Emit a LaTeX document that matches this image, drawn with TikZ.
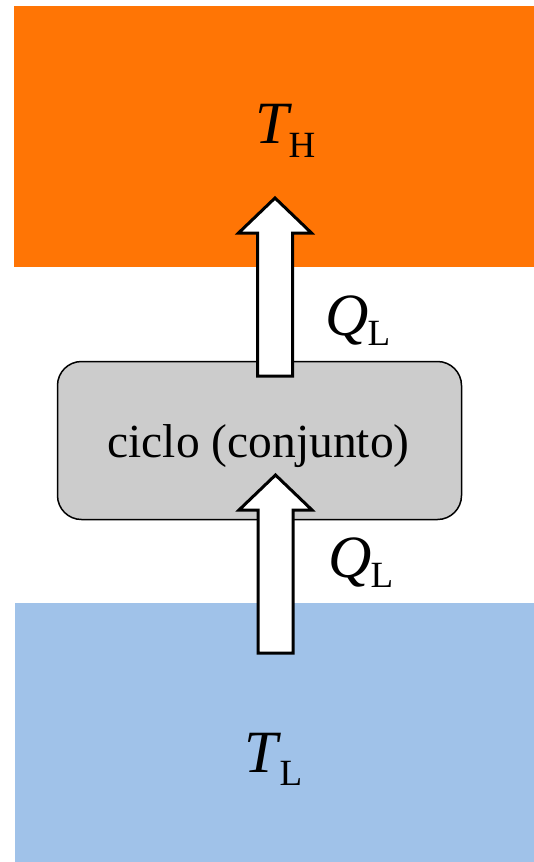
\documentclass[tikz,border=0pt]{standalone}
\usepackage{fontspec}
\setmainfont{Liberation Serif}
\usepackage{xcolor}
\usepackage{tikz}
\definecolor{hotorange}{HTML}{FF7505}
\definecolor{coldblue}{HTML}{A0C2E9}
\definecolor{cyclegray}{HTML}{CCCCCC}
\newcommand{\bigsz}{\fontsize{60}{60}\selectfont}
\newcommand{\subsz}{\fontsize{37}{37}\selectfont}
\newcommand{\txtsz}{\fontsize{47.5}{50}\selectfont}
% block arrow from tail coordinate #1 to tip coordinate #2
\newcommand{\heatarrow}[2]{%
    \draw[heatarr] ([xshift=-17.5pt]#1) -- ([xshift=-17.5pt,yshift=-35pt]#2)
        -- ([xshift=-36.5pt,yshift=-35pt]#2) -- (#2)
        -- ([xshift=36.5pt,yshift=-35pt]#2) -- ([xshift=17.5pt,yshift=-35pt]#2)
        -- ([xshift=17.5pt]#1) -- cycle;}

\begin{document}
\begin{tikzpicture}[
        x=1pt, y=-1pt,
        reservoir/.style={rectangle, draw=none, inner sep=0pt},
        cyclebox/.style={rectangle, rounded corners=24pt, draw=black,
                line width=1.5pt, fill=cyclegray,
                minimum width=404pt, minimum height=158pt, inner sep=0pt},
        heatarr/.style={draw=black, fill=white, line width=3pt, miter limit=10},
        varlbl/.style={anchor=base west, inner sep=0pt, font=\bigsz},
    ]
    \useasboundingbox (0,0) rectangle (533,862);

    \node[reservoir, fill=hotorange, minimum width=521pt, minimum height=261pt]
        (hot) at (274.5,136.5) {};
    \node[reservoir, fill=coldblue, minimum width=520pt, minimum height=260pt]
        (cold) at (275,733) {};

    \node[cyclebox] (cycle) at (259.5,440.5) {};
    \node[anchor=base, inner sep=0pt, font=\txtsz] (cycleText) at (258.5,457)
        {ciclo (conjunto)};

    \coordinate (upTail) at (275,376);
    \coordinate (upTip)  at (275,198);
    \coordinate (lowTail) at (275.5,653);
    \coordinate (lowTip)  at (275.5,475);
    \heatarrow{upTail}{upTip}
    \heatarrow{lowTail}{lowTip}

    \node[varlbl] (tHot) at (255.5,143) {\textit{T}\kern-4pt\raisebox{-14pt}{\subsz H}};
    \node[varlbl] (qUp) at (325,335) {\textit{Q}\kern-1pt\raisebox{-10pt}{\subsz L}};
    \node[varlbl] (qLow) at (328,577) {\textit{Q}\kern-1pt\raisebox{-10pt}{\subsz L}};
    \node[varlbl] (tCold) at (244.5,772) {\textit{T}\kern-2pt\raisebox{-13pt}{\subsz L}};
\end{tikzpicture}
\end{document}
